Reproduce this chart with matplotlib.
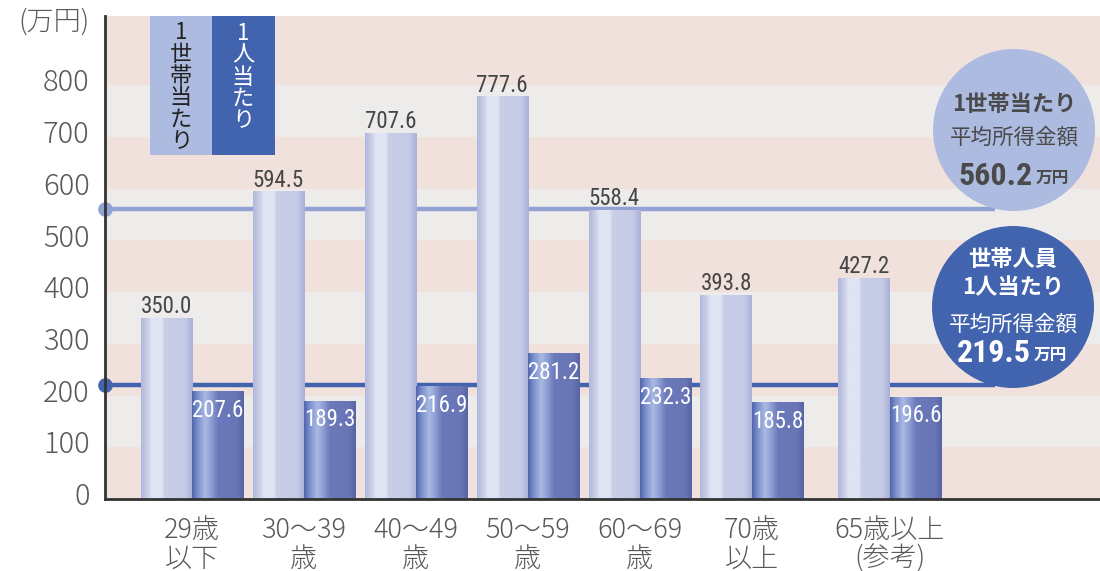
import numpy as np
import matplotlib
matplotlib.use('Agg')
import matplotlib.pyplot as plt
import matplotlib.patches as mpatches
from matplotlib import font_manager
from matplotlib.colors import LinearSegmentedColormap
from matplotlib.transforms import ScaledTranslation

# dados (万円)
grupos = ['29歳\n以下', '30〜39\n歳', '40〜49\n歳', '50〜59\n歳', '60〜69\n歳', '70歳\n以上', '65歳以上\n(参考)']
por_domicilio = [350.0, 594.5, 707.6, 777.6, 558.4, 393.8, 427.2]
por_pessoa = [207.6, 189.3, 216.9, 281.2, 232.3, 185.8, 196.6]
media_domicilio = 560.2
media_pessoa = 219.5
yticks = [0, 100, 200, 300, 400, 500, 600, 700, 800]

plt.rcParams['font.family'] = ['Noto Sans CJK JP', 'DejaVu Sans']

nomes = {f.name for f in font_manager.fontManager.ttflist}


def primeira(cands):
    for c in cands:
        if c in nomes:
            return c
    return 'DejaVu Sans'


FONTE_NUM = primeira(['Roboto Condensed', 'Liberation Sans Narrow', 'Noto Sans Condensed',
                      'Open Sans Condensed', 'Barlow Condensed', 'PT Sans Narrow'])
TAM_NUM = 16.5 if FONTE_NUM != 'DejaVu Sans' else 12.5
TAM_GRANDE = 23 if FONTE_NUM != 'DejaVu Sans' else 17

ROSA = '#f0e1dc'
CINZA = '#edecea'
CLARO = '#adbbe0'
ESCURO = '#4264ae'
TXT = '#595959'

cmap_claro = LinearSegmentedColormap.from_list('claro', [
    (0.0, '#b1b8dc'), (0.1, '#c6cbe6'), (0.2, '#e0e4f3'), (0.4, '#e0e4f3'),
    (0.46, '#c8cde8'), (0.86, '#c5cae5'), (1.0, '#aab1d5')])
cmap_escuro = LinearSegmentedColormap.from_list('escuro', [
    (0.0, '#5366b0'), (0.1, '#7a8fcb'), (0.25, '#a9bae3'), (0.38, '#8c9cd1'),
    (0.5, '#6b79ba'), (0.88, '#6876b6'), (1.0, '#5864a4')])
grad = np.linspace(0, 1, 64).reshape(1, -1)

W, H = 1100, 571
fig = plt.figure(figsize=(W / 100, H / 100), dpi=100)
ax = fig.add_axes([105 / W, 72 / H, 995 / W, 483 / H])

x = np.arange(len(grupos), dtype=float)
x[-1] += 0.23
larg = 0.46
topo = 934

# faixas de fundo
for i, y0 in enumerate(yticks):
    y1 = yticks[i + 1] if i + 1 < len(yticks) else topo
    ax.axhspan(y0, y1, color=ROSA if i % 2 == 0 else CINZA, zorder=0, lw=0)

# linhas de media
x_ini, x_fim = -0.777, 7.17
ax.plot([x_ini, x_fim], [media_domicilio] * 2, color='#93a2d5', lw=3.2, zorder=1, solid_capstyle='butt')
ax.plot([x_ini, x_fim], [media_pessoa] * 2, color=ESCURO, lw=3.2, zorder=1, solid_capstyle='butt')
ax.plot([x_ini], [media_domicilio], 'o', color='#93a2d5', ms=9.5, clip_on=False, zorder=5)
ax.plot([x_ini], [media_pessoa], 'o', color=ESCURO, ms=9.5, clip_on=False, zorder=5)

# barras com gradiente
for xi, v1, v2 in zip(x, por_domicilio, por_pessoa):
    ax.imshow(grad, cmap=cmap_claro, aspect='auto', extent=(xi - larg, xi, 0, v1), zorder=2, interpolation='bilinear')
    ax.imshow(grad, cmap=cmap_escuro, aspect='auto', extent=(xi, xi + larg, 0, v2), zorder=2, interpolation='bilinear')
    ax.annotate(f'{v1:.1f}', (xi - larg / 2, v1), xytext=(0, 0), textcoords='offset points',
                ha='center', va='bottom', fontsize=TAM_NUM, color='#454545',
                family=FONTE_NUM, zorder=4)
    ax.annotate(f'{v2:.1f}', (xi + larg / 2, v2), xytext=(0, -5), textcoords='offset points',
                ha='center', va='top', fontsize=TAM_NUM, color='white',
                family=FONTE_NUM, zorder=4)
ax.set_xlim(x_ini, 8.107)
ax.set_ylim(0, topo)

# eixos
for s in ['top', 'right']:
    ax.spines[s].set_visible(False)
for s in ['left', 'bottom']:
    ax.spines[s].set_color('#333333')
    ax.spines[s].set_linewidth(2)
    ax.spines[s].set_zorder(6)

ax.set_yticks(yticks)
ax.set_yticklabels([str(t) for t in yticks], fontsize=21, color=TXT, fontweight='light')
ax.tick_params(axis='y', length=0, pad=11)
for lbl in ax.get_yticklabels():
    lbl.set_transform(lbl.get_transform() + ScaledTranslation(0, 4 / 72, fig.dpi_scale_trans))

ax.set_xticks(x)
ax.set_xticklabels(grupos, fontsize=19.5, color=TXT, linespacing=1.05, fontweight='light')
ax.tick_params(axis='x', length=0, pad=12)

fig.text(18 / W, 1 - 22 / H, '(万円)', fontsize=19.5, color=TXT, ha='left', va='center', fontweight='light')

# legenda em caixas verticais
ax.add_patch(mpatches.Rectangle((0.0452, 0.712), 0.0623, 0.288, transform=ax.transAxes,
                                color=CLARO, lw=0, zorder=3, clip_on=False))
ax.add_patch(mpatches.Rectangle((0.1075, 0.712), 0.0634, 0.288, transform=ax.transAxes,
                                color=ESCURO, lw=0, zorder=3, clip_on=False))
fig.text(181 / W, 1 - 87 / H, '\n'.join('1世帯当たり'), fontsize=16, color='#222222',
         ha='center', va='center', linespacing=0.93)
fig.text(243 / W, 1 - 77 / H, '\n'.join('1人当たり'), fontsize=16, color='white',
         ha='center', va='center', linespacing=0.93)

# circulos com medias
fig.add_artist(mpatches.Ellipse((1014 / W, 1 - 130 / H), 162 / W, 162 / H,
                                transform=fig.transFigure, color=CLARO, lw=0, zorder=3))
fig.add_artist(mpatches.Ellipse((1013 / W, 1 - 307 / H), 162 / W, 162 / H,
                                transform=fig.transFigure, color=ESCURO, lw=0, zorder=3))

fig.text(1014 / W, 1 - 104 / H, '1世帯当たり', fontsize=16, fontweight='bold', color='#4a4a4a',
         ha='center', va='center', zorder=4)
fig.text(1014 / W, 1 - 138 / H, '平均所得金額', fontsize=15.5, color='#4a4a4a',
         ha='center', va='center', zorder=4)
fig.text(1033 / W, 1 - 176 / H, f'{media_domicilio:.1f}', fontsize=TAM_GRANDE, fontweight='bold',
         color='#4a4a4a', ha='right', va='center', zorder=4, family=FONTE_NUM)
fig.text(1036 / W, 1 - 178 / H, '万円', fontsize=12, fontweight='bold', color='#4a4a4a',
         ha='left', va='center', zorder=4)

fig.text(1013 / W, 1 - 260 / H, '世帯人員', fontsize=16, fontweight='bold', color='white',
         ha='center', va='center', zorder=4)
fig.text(1013 / W, 1 - 288 / H, '1人当たり', fontsize=16, fontweight='bold', color='white',
         ha='center', va='center', zorder=4)
fig.text(1013 / W, 1 - 325 / H, '平均所得金額', fontsize=15.5, color='white',
         ha='center', va='center', zorder=4)
fig.text(1031 / W, 1 - 353 / H, f'{media_pessoa:.1f}', fontsize=TAM_GRANDE, fontweight='bold',
         color='white', ha='right', va='center', zorder=4, family=FONTE_NUM)
fig.text(1034 / W, 1 - 355 / H, '万円', fontsize=12, fontweight='bold', color='white',
         ha='left', va='center', zorder=4)

fig.savefig('out.png', dpi=100)
